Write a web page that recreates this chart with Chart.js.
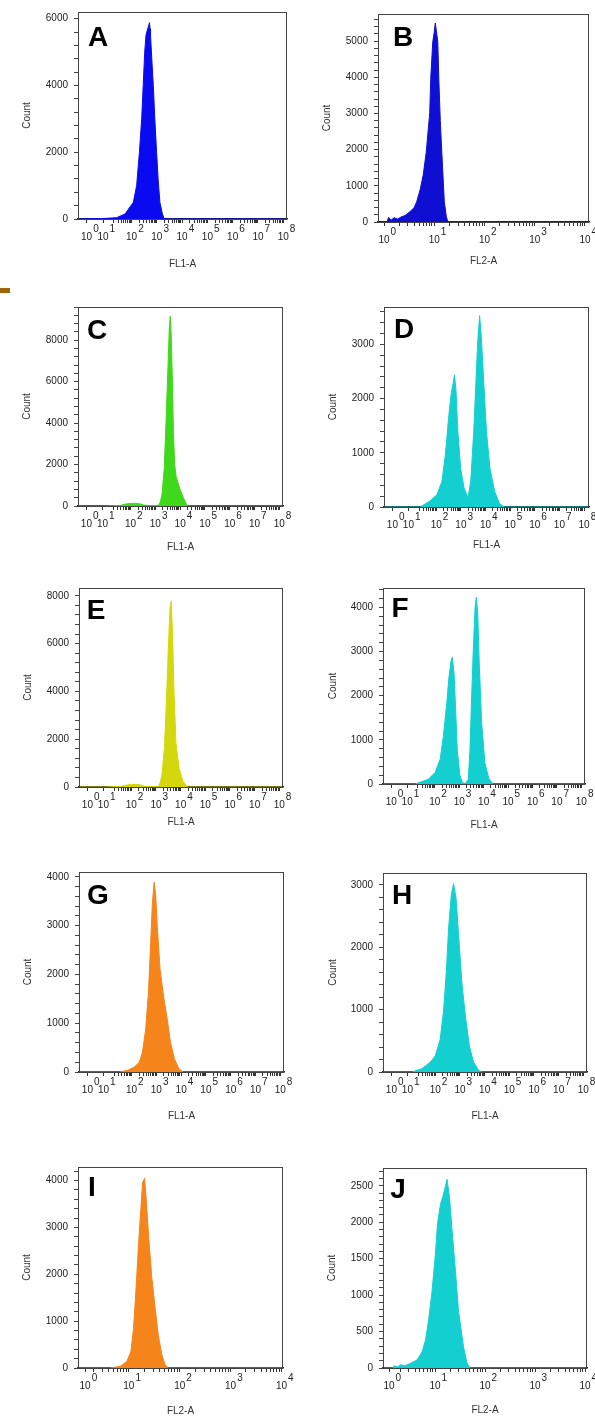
<!DOCTYPE html>
<html>
<head>
<meta charset="utf-8">
<script src="https://cdn.jsdelivr.net/npm/chart.js@4.4.0/dist/chart.umd.min.js"></script>
<style>
  body { margin: 0; width: 595px; height: 1417px; position: relative; overflow: hidden; background: #fff; }
  canvas { position: absolute; }
  .tag { position: absolute; font: bold 28px "Liberation Sans", Arial, sans-serif; line-height: 1; color: #000; transform: translate(-50%, -50%); }
  .mark { position: absolute; left: 0; top: 288px; width: 10px; height: 5px; background: #a0620a; }
</style>
</head>
<body>
<div class="mark"></div>
<script>
// x values are log10 of the channel intensity (decades), y values are event counts

// A - FL1-A, blue
const aLog = [-0.12, 0.6, 1.0, 1.41, 1.74, 2.07, 2.2, 2.31, 2.4, 2.46, 2.52, 2.57, 2.62, 2.66, 2.71, 2.73, 2.75, 2.8, 2.86, 2.92, 2.99, 3.05, 3.12, 3.22, 3.28, 3.35, 8.15];
const aCount = [0, 8, 20, 40, 150, 500, 1000, 2000, 3000, 4000, 5000, 5500, 5650, 5750, 5880, 5700, 5500, 4800, 4000, 3000, 2000, 1200, 500, 150, 20, 0, 0];

// B - FL2-A, blue
const bLog = [-0.12, 0.06, 0.09, 0.14, 0.2, 0.27, 0.34, 0.42, 0.52, 0.6, 0.65, 0.72, 0.78, 0.84, 0.91, 0.93, 0.97, 1.0, 1.02, 1.04, 1.07, 1.09, 1.12, 1.15, 1.2, 1.24, 1.27, 4.08];
const bCount = [0, 0, 130, 50, 120, 80, 140, 180, 290, 400, 560, 900, 1300, 1930, 3020, 3980, 4980, 5250, 5500, 5300, 4980, 3980, 2800, 1930, 560, 150, 0, 0];

// C - FL1-A, green
const cLog = [-0.12, 1.0, 1.6, 1.75, 1.95, 2.2, 2.4, 2.55, 2.8, 3.13, 3.2, 3.27, 3.36, 3.44, 3.51, 3.56, 3.6, 3.64, 3.69, 3.73, 3.78, 3.84, 3.92, 4.0, 4.13, 4.25, 4.33, 8.15];
const cCount = [0, 0, 30, 80, 120, 130, 100, 40, 20, 30, 200, 565, 1820, 4330, 6690, 8500, 9150, 8260, 5900, 3550, 2000, 1400, 1100, 800, 400, 100, 0, 0];

// D - FL1-A, cyan, two peaks
const dLog = [-0.12, 1.34, 1.75, 2.03, 2.23, 2.37, 2.51, 2.61, 2.69, 2.74, 2.8, 2.88, 2.99, 3.13, 3.29, 3.4, 3.52, 3.61, 3.68, 3.76, 3.83, 3.93, 4.04, 4.18, 4.37, 4.57, 4.78, 8.15];
const dCount = [0, 0, 110, 230, 470, 960, 1685, 2110, 2290, 2440, 2170, 1380, 715, 350, 170, 470, 1380, 2290, 3020, 3530, 3140, 2290, 1380, 715, 290, 60, 0, 0];

// E - FL1-A, yellow
const eLog = [-0.12, 1.0, 1.6, 1.75, 1.95, 2.2, 2.4, 2.55, 2.8, 3.11, 3.18, 3.24, 3.34, 3.43, 3.5, 3.57, 3.62, 3.67, 3.73, 3.81, 3.94, 4.1, 4.28, 8.15];
const eCount = [0, 0, 30, 70, 100, 110, 80, 30, 15, 30, 200, 500, 1580, 3740, 5760, 7520, 7790, 6440, 4010, 1850, 770, 230, 0, 0];

// F - FL1-A, cyan, two peaks
const fLog = [-0.12, 1.2, 1.74, 2.01, 2.22, 2.35, 2.49, 2.58, 2.67, 2.72, 2.79, 2.86, 2.92, 3.03, 3.13, 3.24, 3.37, 3.44, 3.51, 3.58, 3.65, 3.7, 3.76, 3.82, 3.92, 4.05, 4.22, 4.39, 8.15];
const fCount = [0, 0, 110, 260, 560, 1080, 1830, 2420, 2800, 2870, 2500, 1600, 780, 190, 40, 0, 110, 780, 1980, 3100, 3990, 4230, 3840, 2720, 1380, 485, 110, 0, 0];

// G - FL1-A, orange
const gLog = [-0.12, 1.51, 1.84, 2.11, 2.31, 2.44, 2.57, 2.68, 2.77, 2.84, 2.91, 2.97, 3.04, 3.15, 3.31, 3.44, 3.57, 3.73, 3.91, 4.08, 8.15];
const gCount = [0, 0, 34, 100, 200, 405, 880, 1620, 2640, 3450, 3890, 3650, 2970, 2100, 1490, 1080, 610, 270, 68, 0, 0];

// H - FL1-A, cyan
const hLog = [-0.12, 1.05, 1.46, 1.8, 2.0, 2.2, 2.34, 2.45, 2.54, 2.65, 2.74, 2.84, 2.95, 3.08, 3.22, 3.38, 3.55, 3.76, 3.89, 8.15];
const hCount = [0, 0, 53, 160, 260, 525, 1000, 1630, 2310, 2840, 3020, 2790, 2160, 1420, 895, 420, 160, 26, 0, 0];

// I - FL2-A, orange
const iLog = [0, 0.63, 0.83, 0.96, 1.04, 1.09, 1.14, 1.19, 1.24, 1.27, 1.31, 1.34, 1.39, 1.45, 1.52, 1.58, 1.65, 1.71, 1.78, 4.03];
const iCount = [0, 0, 35, 140, 350, 830, 1670, 2640, 3470, 3960, 4050, 3610, 2780, 1940, 1250, 690, 280, 70, 0, 0];

// J - FL2-A, cyan
const jLog = [-0.04, 0.15, 0.18, 0.25, 0.31, 0.4, 0.51, 0.64, 0.74, 0.81, 0.87, 0.94, 1.01, 1.05, 1.11, 1.16, 1.21, 1.24, 1.29, 1.34, 1.41, 1.47, 1.57, 1.64, 1.7, 4.04];
const jCount = [0, 0, 30, 15, 45, 30, 65, 110, 220, 380, 650, 1050, 1580, 1980, 2250, 2360, 2500, 2590, 2340, 1900, 1320, 780, 290, 67, 0, 0];

// x tick labels (10^n) and where they sit on the decade axis
const wideTickPos = [0.22, 0.87, 2, 3, 4, 5, 6, 7, 8];
const wideTickExp = ['0', '1', '2', '3', '4', '5', '6', '7', '8'];
const bTickPos = [0, 1, 2, 3, 4];
const iTickPos = [0.14, 1, 2, 3, 4];
const jTickPos = [0.08, 1, 2, 3, 4];
const shortTickExp = ['0', '1', '2', '3', '4'];

const FONT = "'Liberation Sans', Arial, sans-serif";
Chart.defaults.font.family = FONT;
Chart.defaults.color = '#222';

const BLUE = '#0a0af0', BLUE2 = '#0f0fd4', GREEN = '#3fd81a', YELLOW = '#d4d70c', CYAN = '#14cfcf', ORANGE = '#f5841a';

// l,t,r,b = plot box; cx = centre of "Count"; ty = centre of x title
const panels = [
  { tag: 'A', tagX: 98, tagY: 37, xs: aLog, ys: aCount, color: BLUE, l: 78, t: 8, r: 287, b: 219, cx: 27, ty: 264, xt: 'FL1-A', xmin: -0.12, xmax: 8.15, tp: wideTickPos, te: wideTickExp, ymax: 6200, step: 2000 },
  { tag: 'B', tagX: 403, tagY: 37, xs: bLog, ys: bCount, color: BLUE2, l: 378, t: 10, r: 589, b: 222, cx: 327, ty: 261, xt: 'FL2-A', xmin: -0.12, xmax: 4.08, tp: bTickPos, te: shortTickExp, ymax: 5750, step: 1000 },
  { tag: 'C', tagX: 97, tagY: 330, xs: cLog, ys: cCount, color: GREEN, l: 78, t: 303, r: 283, b: 506, cx: 27, ty: 547, xt: 'FL1-A', xmin: -0.12, xmax: 8.15, tp: wideTickPos, te: wideTickExp, ymax: 9600, step: 2000 },
  { tag: 'D', tagX: 404, tagY: 329, xs: dLog, ys: dCount, color: CYAN, l: 384, t: 303, r: 589, b: 507, cx: 333, ty: 545, xt: 'FL1-A', xmin: -0.12, xmax: 8.2, tp: wideTickPos, te: wideTickExp, ymax: 3690, step: 1000 },
  { tag: 'E', tagX: 96, tagY: 610, xs: eLog, ys: eCount, color: YELLOW, l: 79, t: 584, r: 283, b: 787, cx: 28, ty: 822, xt: 'FL1-A', xmin: -0.12, xmax: 8.15, tp: wideTickPos, te: wideTickExp, ymax: 8330, step: 2000 },
  { tag: 'F', tagX: 400, tagY: 608, xs: fLog, ys: fCount, color: CYAN, l: 383, t: 584, r: 585, b: 784, cx: 333, ty: 825, xt: 'FL1-A', xmin: -0.12, xmax: 8.15, tp: wideTickPos, te: wideTickExp, ymax: 4440, step: 1000 },
  { tag: 'G', tagX: 98, tagY: 895, xs: gLog, ys: gCount, color: ORANGE, l: 79, t: 868, r: 284, b: 1072, cx: 28, ty: 1116, xt: 'FL1-A', xmin: -0.12, xmax: 8.15, tp: wideTickPos, te: wideTickExp, ymax: 4100, step: 1000 },
  { tag: 'H', tagX: 402, tagY: 895, xs: hLog, ys: hCount, color: CYAN, l: 383, t: 869, r: 587, b: 1072, cx: 333, ty: 1116, xt: 'FL1-A', xmin: -0.12, xmax: 8.15, tp: wideTickPos, te: wideTickExp, ymax: 3190, step: 1000 },
  { tag: 'I', tagX: 92, tagY: 1187, xs: iLog, ys: iCount, color: ORANGE, l: 78, t: 1163, r: 283, b: 1368, cx: 27, ty: 1411, xt: 'FL2-A', xmin: 0, xmax: 4.03, tp: iTickPos, te: shortTickExp, ymax: 4290, step: 1000 },
  { tag: 'J', tagX: 398, tagY: 1189, xs: jLog, ys: jCount, color: CYAN, l: 383, t: 1164, r: 587, b: 1368, cx: 332, ty: 1410, xt: 'FL2-A', xmin: -0.04, xmax: 4.04, tp: jTickPos, te: shortTickExp, ymax: 2745, step: 500 },
];

// right padding is wider than the overhang of the last tick label so the plot box keeps its size
const PAD_TOP = 8, PAD_RIGHT = 16, TICK_LEN = 4, X_PAD = 8;

// box around the plot area
const framePlugin = {
  id: 'frame',
  afterDraw(chart) {
    const { ctx, chartArea: a } = chart;
    ctx.save();
    ctx.strokeStyle = '#444';
    ctx.lineWidth = 1;
    ctx.strokeRect(a.left + 0.5, a.top + 0.5, a.right - a.left - 1, a.bottom - a.top);
    ctx.restore();
  }
};

// raised exponent next to each "10" tick label
const expPlugin = {
  id: 'exponents',
  afterDraw(chart, args, opts) {
    const { ctx } = chart;
    const xs = chart.scales.x;
    ctx.save();
    ctx.font = '10px ' + FONT;
    const half = ctx.measureText('10').width / 2;
    ctx.fillStyle = '#222';
    ctx.textAlign = 'left';
    ctx.textBaseline = 'middle';
    const yMid = xs.top + TICK_LEN + X_PAD + 6;
    opts.pos.forEach((p, i) => {
      const px = xs.getPixelForValue(p);
      ctx.fillText(opts.exp[i], px + half + 1, yMid - 8);
    });
    ctx.restore();
  }
};

panels.forEach(p => {
  const left = p.cx - 6;
  const top = p.t - PAD_TOP;
  const width = p.r + PAD_RIGHT - left;
  const height = p.ty + 6 - top;
  const yw = p.l - left;
  const xh = p.ty + 6 - p.b;

  const canvas = document.createElement('canvas');
  canvas.width = width;
  canvas.height = height;
  canvas.style.left = left + 'px';
  canvas.style.top = top + 'px';
  document.body.appendChild(canvas);

  const tag = document.createElement('div');
  tag.className = 'tag';
  tag.textContent = p.tag;
  tag.style.left = p.tagX + 'px';
  tag.style.top = p.tagY + 'px';
  document.body.appendChild(tag);

  const lo = Math.floor(p.xmin), hi = Math.floor(p.xmax);
  const minorX = [];
  for (let n = Math.max(lo, p.tp.length > 5 ? 1 : 0); n < hi; n++) {
    for (let k = 2; k <= 9; k++) minorX.push(n + Math.log10(k));
  }
  const xTicks = p.tp.concat(minorX).sort((a, b) => a - b);

  new Chart(canvas, {
    type: 'line',
    data: {
      datasets: [{
        data: p.xs.map((x, i) => ({ x: x, y: p.ys[i] })),
        borderColor: p.color,
        backgroundColor: p.color,
        borderWidth: 1,
        pointRadius: 0,
        tension: 0,
        fill: 'origin'
      }]
    },
    options: {
      responsive: false,
      animation: false,
      events: [],
      layout: { padding: { top: PAD_TOP, right: PAD_RIGHT, left: 0, bottom: 0 } },
      plugins: {
        legend: { display: false },
        tooltip: { enabled: false },
        exponents: { pos: p.tp, exp: p.te }
      },
      scales: {
        x: {
          type: 'linear',
          min: p.xmin,
          max: p.xmax,
          z: 1,
          afterFit: s => { s.height = xh; },
          afterBuildTicks: s => { s.ticks = xTicks.map(v => ({ value: v })); },
          ticks: {
            autoSkip: false,
            maxRotation: 0,
            padding: X_PAD,
            font: { size: 10 },
            callback: v => (p.tp.includes(v) ? '10' : '')
          },
          grid: { drawOnChartArea: false, tickLength: TICK_LEN, color: '#333' },
          border: { color: '#222', width: 1.5 },
          title: { display: true, text: p.xt, font: { size: 10 }, color: '#333', padding: 0 }
        },
        y: {
          min: 0,
          max: p.ymax,
          afterFit: s => { s.width = yw; },
          afterBuildTicks: s => {
            const t = [];
            for (let v = 0; v <= p.ymax; v += p.step / 5) t.push({ value: v });
            s.ticks = t;
          },
          ticks: {
            autoSkip: false,
            padding: 6,
            font: { size: 10 },
            callback: v => (v % p.step === 0 ? String(v) : '')
          },
          grid: { drawOnChartArea: false, tickLength: TICK_LEN, color: '#444' },
          border: { color: '#333', width: 1 },
          title: { display: true, text: 'Count', font: { size: 10 }, color: '#333', padding: 0 }
        }
      }
    },
    plugins: [framePlugin, expPlugin]
  });
});
</script>
</body>
</html>
